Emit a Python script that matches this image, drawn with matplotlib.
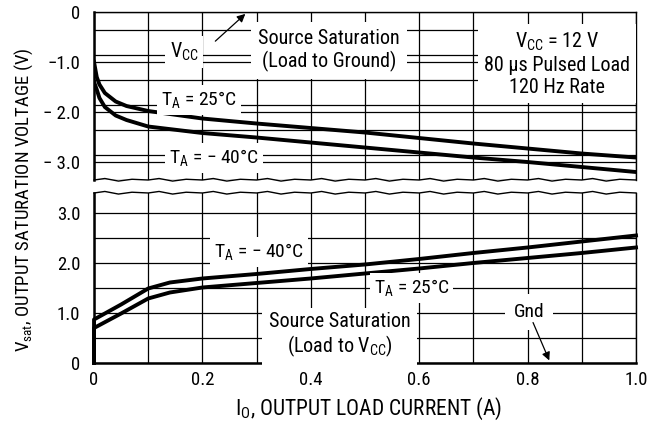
"""Output saturation voltage vs. load current, datasheet style with a broken y axis."""

import numpy as np
import matplotlib.pyplot as plt
from matplotlib import font_manager

# the original uses a narrow Helvetica; take a condensed face when one is installed
_installed = {f.name for f in font_manager.fontManager.ttflist}
if "Roboto Condensed" in _installed:
    FONT, SCALE = ["Roboto Condensed", "DejaVu Sans"], 1.0
elif "Liberation Sans Narrow" in _installed:
    FONT, SCALE = ["Liberation Sans Narrow", "DejaVu Sans"], 1.0
else:
    FONT, SCALE = ["Liberation Sans", "DejaVu Sans"], 0.88
plt.rcParams["font.family"] = FONT

# Source saturation (load to ground), volts below Vcc
I_SOURCE = [0, 0.005, 0.01, 0.02, 0.04, 0.06, 0.1, 0.2, 0.3, 0.4, 0.5, 0.6, 0.7, 0.8, 0.9, 1.0]
VSAT_SOURCE_25 = [-1.0, -1.3, -1.45, -1.62, -1.79, -1.88, -1.98, -2.13, -2.23, -2.32, -2.41, -2.52,
                  -2.63, -2.73, -2.83, -2.91]
VSAT_SOURCE_M40 = [-1.4, -1.55, -1.72, -1.9, -2.07, -2.16, -2.29, -2.42, -2.51, -2.61, -2.71, -2.81,
                   -2.91, -3.0, -3.1, -3.2]

# Sink saturation (load to Vcc), volts above ground
I_SINK = [0, 0, 0.05, 0.1, 0.14, 0.2, 0.3, 0.4, 0.5, 0.6, 0.7, 0.8, 0.9, 1.0]
VSAT_SINK_M40 = [0, 0.87, 1.17, 1.49, 1.61, 1.69, 1.78, 1.88, 1.97, 2.08, 2.2, 2.31, 2.43, 2.55]
VSAT_SINK_25 = [0, 0.7, 0.99, 1.29, 1.41, 1.51, 1.6, 1.69, 1.79, 1.89, 2.0, 2.1, 2.2, 2.31]

X_TICKS = [0, 0.2, 0.4, 0.6, 0.8, 1.0]
X_TICK_LABELS = ["0", "0.2", "0.4", "0.6", "0.8", "1.0"]
TOP_Y_TICKS = [0, -1, -2, -3]
TOP_Y_TICK_LABELS = ["0", "\u22121.0", "\u2212 2.0", "\u2212 3.0"]
BOT_Y_TICKS = [0, 1, 2, 3]
BOT_Y_TICK_LABELS = ["0", "1.0", "2.0", "3.0"]

LINE_W = 2.8
FS_TICK = 13.5 * SCALE
FS_NOTE = 14.5 * SCALE
FS_TA = 14 * SCALE
FS_XLABEL = 15.5 * SCALE
FS_YLABEL = 13.5 * SCALE


def box(pad):
    return dict(boxstyle=f"square,pad={pad}", facecolor="white", edgecolor="none")


def style_axis(ax, ylim, yticks, ylabels):
    ax.set_xlim(0, 1.0)
    ax.set_ylim(*ylim)
    ax.set_xticks(np.arange(0, 1.01, 0.1), minor=True)
    ax.set_yticks(np.arange(ylim[0], ylim[1] + 0.01, 0.5), minor=True)
    ax.set_yticks(yticks, labels=ylabels)
    ax.grid(True, which="both", color="black", linewidth=0.9)
    ax.set_axisbelow(True)
    ax.tick_params(which="both", length=0)
    ax.tick_params(axis="y", pad=10, labelsize=FS_TICK)
    ax.tick_params(axis="x", pad=6, labelsize=FS_TICK)
    ax.spines["left"].set_linewidth(1.8)
    ax.spines["right"].set_linewidth(1.0)
    ax.spines["top"].set_linewidth(1.0)
    ax.spines["bottom"].set_linewidth(1.8)


def break_line(ax, y0, amp):
    # wavy edge marking the axis break
    xs = np.linspace(0, 1, 401)
    frac = (xs * 10) % 1
    ys = y0 + amp * np.interp(frac, [0, 0.2, 0.45, 0.7, 1.0], [0, 1.0, -0.7, 0.5, 0])
    ax.plot(xs, ys, color="black", linewidth=1.0, transform=ax.transAxes, clip_on=False)


fig = plt.figure(figsize=(6.65, 4.28), dpi=100)
ax_top = fig.add_axes([0.1414, 0.5794, 0.8150, 0.3925])
ax_bot = fig.add_axes([0.1414, 0.1519, 0.8150, 0.3972])

style_axis(ax_top, (-3.36, 0), TOP_Y_TICKS, TOP_Y_TICK_LABELS)
style_axis(ax_bot, (0, 3.4), BOT_Y_TICKS, BOT_Y_TICK_LABELS)

ax_top.set_xticks([])
ax_top.set_xticks(np.arange(0, 1.01, 0.1), minor=True)
ax_top.spines["bottom"].set_visible(False)
ax_bot.spines["top"].set_visible(False)
ax_bot.set_xticks(X_TICKS, labels=X_TICK_LABELS)

break_line(ax_top, 0.0, 0.009)
break_line(ax_bot, 1.0, 0.009)

ax_top.plot(I_SOURCE, VSAT_SOURCE_25, color="black", linewidth=LINE_W, zorder=3)
ax_top.plot(I_SOURCE, VSAT_SOURCE_M40, color="black", linewidth=LINE_W, zorder=3)
ax_bot.plot(I_SINK, VSAT_SINK_M40, color="black", linewidth=LINE_W, zorder=3, clip_on=False)
ax_bot.plot(I_SINK, VSAT_SINK_25, color="black", linewidth=LINE_W, zorder=3, clip_on=False)

ARROW = dict(arrowstyle="-|>", color="black", lw=0.9, mutation_scale=12)

# top panel annotations
ax_top.text(0.166, -0.8, "V$_\\mathregular{CC}$", fontsize=FS_NOTE, ha="center", va="center",
            bbox=box(0.25), zorder=4)
ax_top.annotate("", xy=(0.283, 0.0), xytext=(0.22, -0.62), arrowprops=ARROW,
                annotation_clip=False, zorder=5)
ax_top.text(0.434, -0.77, "Source Saturation\n(Load to Ground)", fontsize=FS_NOTE, ha="center",
            va="center", linespacing=1.2, bbox=box(0.35), zorder=4)
ax_top.text(0.854, -1.04, "V$_\\mathregular{CC}$ = 12 V\n80 \u00b5s Pulsed Load\n120 Hz Rate",
            fontsize=FS_NOTE, ha="center", va="center", linespacing=1.2, bbox=box(0.3), zorder=4)
ax_top.text(0.194, -1.76, "T$_\\mathregular{A}$ = 25\u00b0C", fontsize=FS_TA, ha="center",
            va="center", bbox=box(0.2), zorder=4)
ax_top.text(0.222, -2.92, "T$_\\mathregular{A}$ = \u2212 40\u00b0C", fontsize=FS_TA, ha="center",
            va="center", bbox=box(0.2), zorder=4)

# bottom panel annotations
ax_bot.text(0.305, 2.22, "T$_\\mathregular{A}$ = \u2212 40\u00b0C", fontsize=FS_TA, ha="center",
            va="center", bbox=box(0.2), zorder=4)
ax_bot.text(0.586, 1.5, "T$_\\mathregular{A}$ = 25\u00b0C", fontsize=FS_TA, ha="center",
            va="center", bbox=box(0.2), zorder=4)
ax_bot.text(0.453, 0.55, "Source Saturation\n(Load to V$_\\mathregular{CC}$)", fontsize=FS_NOTE,
            ha="center", va="center", linespacing=1.15, bbox=box(0.35), zorder=4)
ax_bot.text(0.802, 1.02, "Gnd", fontsize=FS_TA, ha="center", va="center", bbox=box(0.45), zorder=4)
ax_bot.annotate("", xy=(0.842, 0.0), xytext=(0.808, 0.86), arrowprops=ARROW,
                annotation_clip=False, zorder=5)

fig.text(0.036, 0.533, "V$_\\mathregular{sat}$, OUTPUT SATURATION VOLTAGE (V)", fontsize=FS_YLABEL,
         rotation=90, ha="center", va="center")
fig.text(0.555, 0.044, "I$_\\mathregular{O}$, OUTPUT LOAD CURRENT (A)", fontsize=FS_XLABEL,
         ha="center", va="center")

fig.savefig("out.png", dpi=100, facecolor="white")
